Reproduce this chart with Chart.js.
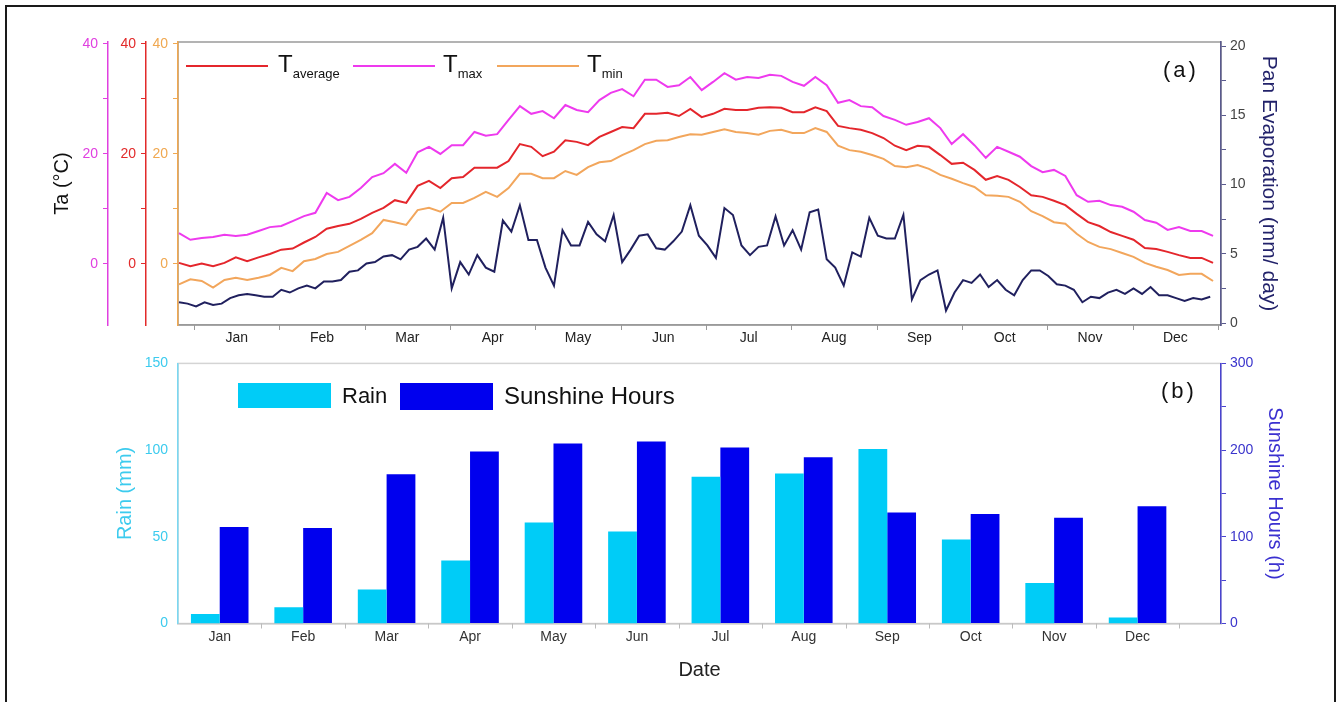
<!DOCTYPE html>
<html>
<head>
<meta charset="utf-8">
<script src="https://cdn.jsdelivr.net/npm/chart.js@4.4.1/dist/chart.umd.min.js"></script>
<style>
  body { margin: 0; background: #fff; width: 1338px; height: 702px; overflow: hidden; position: relative;
         font-family: "Liberation Sans", Arial, sans-serif; }
  #frame { position: absolute; left: 5px; top: 5px; width: 1327px; height: 720px; border: 2px solid #1a1a1a; }
  .box { position: absolute; left: 0; width: 1338px; }
  #topBox { top: 0; height: 350px; }
  #botBox { top: 345px; height: 357px; }
  .lg { position: absolute; height: 2px; }
  .lt { position: absolute; font-size: 24px; line-height: 24px; color: #111; white-space: nowrap; }
  .lt sub { font-size: 13px; vertical-align: -6px; line-height: 13px; }
  .rect { position: absolute; }
  .txt { position: absolute; color: #111; white-space: nowrap; }
</style>
</head>
<body>
<div id="frame"></div>
<div class="box" id="topBox"><canvas id="chartA"></canvas></div>
<div class="box" id="botBox"><canvas id="chartB"></canvas></div>

<!-- legend (a) -->
<div class="lg" style="left:186px;top:65px;width:82px;background:#e4262c"></div>
<div class="lt" style="left:278px;top:52px">T<sub>average</sub></div>
<div class="lg" style="left:353px;top:65px;width:82px;background:#ee3aee"></div>
<div class="lt" style="left:443px;top:52px">T<sub>max</sub></div>
<div class="lg" style="left:497px;top:65px;width:82px;background:#f2a65c"></div>
<div class="lt" style="left:587px;top:52px">T<sub>min</sub></div>
<div class="txt" style="left:1163px;top:59px;font-size:22px;line-height:22px;letter-spacing:3px">(a)</div>

<!-- legend (b) -->
<div class="rect" style="left:238px;top:383px;width:93px;height:25px;background:#00ccf7"></div>
<div class="txt" style="left:342px;top:385px;font-size:22px;line-height:22px">Rain</div>
<div class="rect" style="left:400px;top:383px;width:93px;height:27px;background:#0000ee"></div>
<div class="txt" style="left:504px;top:384px;font-size:24px;line-height:24px">Sunshine Hours</div>
<div class="txt" style="left:1161px;top:380px;font-size:22px;line-height:22px;letter-spacing:3px">(b)</div>

<script>
// Month names
var months = ['Jan', 'Feb', 'Mar', 'Apr', 'May', 'Jun', 'Jul', 'Aug', 'Sep', 'Oct', 'Nov', 'Dec'];

var tStep = 4;
var tAverage = [
  0.2, -0.4, 0.1, -0.4, 0.2, 1.2, 0.5, 1.2, 1.8, 2.6,
  2.8, 3.9, 4.9, 6.4, 6.9, 7.3, 8.2, 9.3, 10.2, 11.6,
  11.1, 14.2, 15.1, 13.8, 15.6, 15.8, 17.5, 17.5, 17.5, 18.7,
  21.8, 21.3, 19.6, 20.4, 22.5, 22.2, 21.6, 23.1, 24.0, 24.9,
  24.7, 27.3, 27.3, 27.5, 26.9, 28.2, 26.7, 27.3, 28.2, 28.0,
  28.0, 28.4, 28.5, 28.4, 27.6, 27.6, 28.5, 27.8, 25.1, 24.7,
  24.4, 23.8, 22.9, 21.5, 20.7, 21.5, 21.3, 19.8, 18.2, 18.4,
  17.1, 15.3, 16.0, 15.3, 14.0, 12.5, 12.2, 11.5, 10.7, 9.1,
  7.6, 6.9, 5.8, 5.1, 4.4, 2.9, 2.7, 2.2, 1.6, 1.1,
  1.1, 0.2
];
var tMax = [
  5.6, 4.4, 4.7, 4.9, 5.3, 5.1, 5.3, 6.0, 6.7, 6.9,
  7.8, 8.7, 9.3, 12.9, 11.6, 12.2, 13.8, 15.8, 16.5, 18.2,
  16.6, 20.3, 21.3, 20.0, 21.6, 21.6, 24.0, 23.3, 23.6, 26.2,
  28.7, 27.3, 27.8, 26.5, 28.9, 28.0, 27.6, 29.8, 31.1, 31.8,
  30.5, 33.5, 33.5, 32.2, 32.5, 34.0, 31.6, 33.1, 34.7, 33.5,
  34.0, 33.8, 34.4, 34.2, 33.1, 32.4, 34.0, 32.5, 29.3, 29.8,
  28.7, 28.5, 26.9, 26.2, 25.3, 25.8, 26.5, 24.7, 21.8, 23.6,
  21.6, 19.3, 21.3, 20.4, 19.5, 17.8, 16.7, 17.1, 16.0, 12.5,
  11.3, 11.5, 10.7, 10.4, 9.5, 8.0, 7.5, 6.2, 6.7, 6.0,
  6.0, 5.1
];
var tMin = [
  -3.7, -2.8, -3.1, -4.3, -2.9, -2.5, -2.9, -2.5, -2.0, -0.7,
  -1.3, 0.5, 0.9, 1.8, 2.2, 3.3, 4.4, 5.6, 8.0, 7.6,
  7.1, 9.8, 10.2, 9.5, 11.1, 11.1, 12.0, 13.1, 12.2, 13.8,
  16.4, 16.4, 15.6, 15.6, 16.9, 16.2, 17.6, 18.5, 18.7, 19.8,
  20.7, 21.8, 22.4, 22.5, 23.1, 23.6, 23.5, 24.0, 24.5, 24.0,
  23.8, 23.5, 24.2, 24.4, 23.8, 23.8, 24.7, 24.0, 21.5, 20.7,
  20.4, 19.8, 19.1, 17.8, 17.6, 18.0, 17.3, 16.2, 15.5, 14.7,
  14.0, 12.5, 12.4, 12.2, 11.3, 9.6, 8.7, 7.6, 7.3, 5.5,
  4.0, 3.1, 2.7, 2.0, 1.3, 0.2, -0.5, -1.1, -2.0, -1.8,
  -1.8, -3.1
];

var eStep = 3;
var panEvap = [
  1.5, 1.4, 1.2, 1.5, 1.3, 1.4, 1.8, 2.0, 2.1, 2.0,
  1.9, 1.9, 2.4, 2.2, 2.5, 2.7, 2.5, 3.0, 3.0, 3.1,
  3.7, 3.8, 4.3, 4.4, 4.8, 4.9, 4.6, 5.3, 5.5, 6.1,
  5.3, 7.6, 2.5, 4.4, 3.5, 4.9, 4.0, 3.7, 7.4, 6.6,
  8.5, 6.0, 6.0, 4.0, 2.7, 6.7, 5.6, 5.6, 7.3, 6.4,
  5.9, 7.8, 4.4, 5.3, 6.3, 6.4, 5.4, 5.3, 5.9, 6.6,
  8.5, 6.3, 5.6, 4.7, 8.3, 7.8, 5.6, 4.9, 5.5, 5.6,
  7.7, 5.6, 6.7, 5.3, 8.0, 8.2, 4.6, 4.0, 2.7, 5.1,
  4.8, 7.6, 6.3, 6.1, 6.1, 7.8, 1.7, 3.1, 3.5, 3.8,
  0.9, 2.2, 3.1, 2.9, 3.5, 2.6, 3.1, 2.4, 2.0, 3.1,
  3.8, 3.8, 3.4, 2.8, 2.7, 2.4, 1.5, 1.9, 1.8, 2.2,
  2.4, 2.1, 2.5, 2.1, 2.6, 2.0, 2.0, 1.8, 1.6, 1.8,
  1.7, 1.9
];

// (b) monthly totals
var rain = [5.5, 9.4, 19.6, 36.4, 58.3, 53.0, 84.6, 86.5, 100.6, 48.4, 23.3, 3.4];
var sunshine = [111.3, 110.2, 172.2, 198.5, 207.7, 210.0, 203.0, 191.7, 128.0, 126.2, 122.0, 135.3];

// tick values
var tempTicks = [0, 10, 20, 30, 40];
var evapTicks = [0, 2.5, 5, 7.5, 10, 12.5, 15, 17.5, 20];
var rainTicks = [0, 50, 100, 150];
var sunTicks = [0, 50, 100, 150, 200, 250, 300];

Chart.defaults.font.family = '"Liberation Sans", Arial, sans-serif';
Chart.defaults.color = '#222';

// month boundaries / centres on the day axis of panel (a)
var monthLen = 30.04;
var dayEdges = [], dayMids = [];
for (var m = 0; m <= 12; m++) dayEdges.push(5.3 + m * monthLen);
for (var m = 0; m < 12; m++) dayMids.push(20.3 + m * monthLen);
var monthPos = months.map(function (n, i) { return i + 1; });
var barEdges = months.map(function (n, i) { return i + 1.5; });

function toPoints(values, step) {
  return values.map(function (v, i) { return { x: i * step, y: v }; });
}

// short tick marks at month boundaries, below the x axis
var monthTicks = {
  id: 'monthTicks',
  afterDraw: function (chart, args, opts) {
    var sc = chart.scales.x, ctx = chart.ctx, y0 = chart.chartArea.bottom;
    ctx.save();
    ctx.strokeStyle = opts.color;
    ctx.lineWidth = 1;
    opts.at.forEach(function (v) {
      var px = Math.round(sc.getPixelForValue(v)) + 0.5;
      ctx.beginPath();
      ctx.moveTo(px, y0);
      ctx.lineTo(px, y0 + 5);
      ctx.stroke();
    });
    ctx.restore();
  }
};

// grey box round the plot area
var frame = {
  id: 'frame',
  beforeDraw: function (chart, args, opts) {
    var a = chart.chartArea, ctx = chart.ctx;
    ctx.save();
    ctx.strokeStyle = opts.color;
    ctx.lineWidth = 1.5;
    ctx.strokeRect(a.left, a.top, a.right - a.left, a.bottom - a.top);
    ctx.restore();
  }
};

function tempAxis(color, weight, width, title) {
  return {
    type: 'linear', position: 'left', weight: weight,
    min: -11.1, max: 40.36,
    afterBuildTicks: function (s) { s.ticks = tempTicks.map(function (v) { return { value: v }; }); },
    afterFit: function (s) { s.width = width; },
    ticks: { color: color, font: { size: 14 }, padding: 5,
             callback: function (v) { return v % 20 === 0 ? v : ''; } },
    grid: { drawOnChartArea: false, color: color, tickLength: 5 },
    border: { color: color, width: 1.5 },
    title: { display: !!title, text: title || '', color: '#111', font: { size: 20 }, padding: 0 }
  };
}

// Panel (a): temperatures and pan evaporation
new Chart(document.getElementById('chartA'), {
  type: 'line',
  data: {
    datasets: [
      { label: 'Taverage', data: toPoints(tAverage, tStep), borderColor: '#e4262c', yAxisID: 'yRed' },
      { label: 'Tmax', data: toPoints(tMax, tStep), borderColor: '#ee3aee', yAxisID: 'yMag' },
      { label: 'Tmin', data: toPoints(tMin, tStep), borderColor: '#f2a65c', yAxisID: 'yOrg' },
      { label: 'Pan Evaporation', data: toPoints(panEvap, eStep), borderColor: '#20205e', yAxisID: 'yE' }
    ]
  },
  options: {
    responsive: true,
    maintainAspectRatio: false,
    animation: false,
    elements: { point: { radius: 0 }, line: { borderWidth: 2, tension: 0 } },
    layout: { padding: { left: 50, right: 57, top: 42, bottom: 0 } },
    plugins: {
      legend: { display: false },
      tooltip: { enabled: false },
      monthTicks: { at: dayEdges, color: '#999' },
      frame: { color: '#9a9a9a' }
    },
    scales: {
      x: {
        type: 'linear', min: -0.35, max: 366.8,
        afterBuildTicks: function (s) { s.ticks = dayMids.map(function (v) { return { value: v }; }); },
        afterFit: function (s) { s.height = 25; },
        ticks: { color: '#222', font: { size: 14 }, padding: 5, maxRotation: 0, autoSkip: false,
                 callback: function (v, i) { return months[i]; } },
        grid: { display: false, drawTicks: false },
        border: { color: '#9a9a9a', width: 1.5 }
      },
      yMag: tempAxis('#e040e0', 3, 58, 'Ta (°C)'),
      yRed: tempAxis('#e22a2a', 2, 38),
      yOrg: tempAxis('#f0a850', 1, 32),
      yE: {
        type: 'linear', position: 'right',
        min: -0.144, max: 20.29,
        afterBuildTicks: function (s) { s.ticks = evapTicks.map(function (v) { return { value: v }; }); },
        afterFit: function (s) { s.width = 60; },
        ticks: { color: '#444', font: { size: 14 }, padding: 4,
                 callback: function (v) { return v % 5 === 0 ? v : ''; } },
        grid: { drawOnChartArea: false, color: '#5a5a8e', tickLength: 5 },
        border: { color: '#5a5a8e', width: 1.5 },
        title: { display: true, text: 'Pan Evaporation (mm/ day)', color: '#22226a', font: { size: 21 }, padding: 0 }
      }
    }
  },
  plugins: [monthTicks, frame]
});

// Panel (b): monthly rain and sunshine hours
new Chart(document.getElementById('chartB'), {
  type: 'bar',
  data: {
    datasets: [
      { label: 'Rain', data: monthPos.map(function (m, i) { return { x: m, y: rain[i] }; }),
        backgroundColor: '#00ccf7', yAxisID: 'yR', categoryPercentage: 0.69, barPercentage: 1 },
      { label: 'Sunshine Hours', data: monthPos.map(function (m, i) { return { x: m, y: sunshine[i] }; }),
        backgroundColor: '#0000ee', yAxisID: 'yS', categoryPercentage: 0.69, barPercentage: 1 }
    ]
  },
  options: {
    responsive: true,
    maintainAspectRatio: false,
    animation: false,
    layout: { padding: { left: 113, right: 51, top: 16, bottom: 20 } },
    plugins: {
      legend: { display: false },
      tooltip: { enabled: false },
      monthTicks: { at: barEdges, color: '#bbb' },
      frame: { color: '#d4d4d4' }
    },
    scales: {
      x: {
        type: 'linear', min: 0.5, max: 13.0, offset: false,
        afterBuildTicks: function (s) { s.ticks = monthPos.map(function (v) { return { value: v }; }); },
        afterFit: function (s) { s.height = 58.5; },
        ticks: { color: '#333', font: { size: 14 }, padding: 5, maxRotation: 0, autoSkip: false,
                 callback: function (v, i) { return months[i]; } },
        grid: { display: false, drawTicks: false, offset: false },
        border: { color: '#c8c8c8', width: 1.5 },
        title: { display: true, text: 'Date', color: '#222', font: { size: 20 }, padding: 0 }
      },
      yR: {
        type: 'linear', position: 'left', min: 0, max: 150,
        afterBuildTicks: function (s) { s.ticks = rainTicks.map(function (v) { return { value: v }; }); },
        afterFit: function (s) { s.width = 65; },
        ticks: { color: '#3ccbee', font: { size: 14 }, padding: 10 },
        grid: { display: false, drawTicks: false },
        border: { color: '#7ad8f2', width: 1.5 },
        title: { display: true, text: 'Rain (mm)', color: '#3ccbee', font: { size: 20 }, padding: 0 }
      },
      yS: {
        type: 'linear', position: 'right', min: 0, max: 300,
        afterBuildTicks: function (s) { s.ticks = sunTicks.map(function (v) { return { value: v }; }); },
        afterFit: function (s) { s.width = 66; },
        ticks: { color: '#3a34cc', font: { size: 14 }, padding: 4,
                 callback: function (v) { return v % 100 === 0 ? v : ''; } },
        grid: { drawOnChartArea: false, color: '#4a44d0', tickLength: 5 },
        border: { color: '#4a44d0', width: 1.5 },
        title: { display: true, text: 'Sunshine Hours (h)', color: '#3a30d0', font: { size: 20 }, padding: 0 }
      }
    }
  },
  plugins: [monthTicks, frame]
});
</script>
</body>
</html>
